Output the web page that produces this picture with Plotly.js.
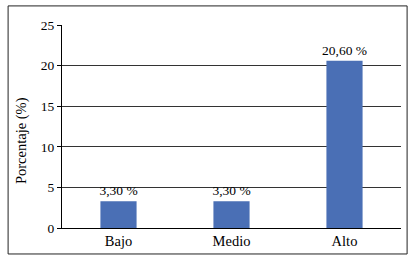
<!DOCTYPE html>
<html>
<head>
<meta charset="utf-8">
<script src="https://cdn.plot.ly/plotly-3.0.1.min.js"></script>
<style>html,body{margin:0;padding:0;background:#fff;}#chart{width:415px;height:258px;}</style>
</head>
<body>
<div id="chart"></div>
<script>
const categories = ["Bajo", "Medio", "Alto"];
const values = [3.3, 3.3, 20.6];
const yTicks = [0, 5, 10, 15, 20, 25];

const font = "'Liberation Serif', 'Times New Roman', serif";

const trace = {
  type: "bar",
  x: categories,
  y: values,
  marker: {color: "#4a6fb5"},
  texttemplate: "%{y:.2f} %",
  textposition: "outside",
  constraintext: "none",
  textfont: {family: font, size: 13.5, color: "#000"},
  cliponaxis: false,
  hoverinfo: "none"
};

const layout = {
  width: 415, height: 258,
  margin: {l: 62, r: 14, t: 25, b: 30},
  paper_bgcolor: "#fff", plot_bgcolor: "#fff",
  separators: ", ",
  bargap: 0.68,
  showlegend: false,
  font: {family: font, size: 14, color: "#000"},
  xaxis: {
    showline: true, linecolor: "#000", linewidth: 1,
    ticks: "", tickfont: {family: font, size: 14.5, color: "#000"},
    showgrid: false
  },
  yaxis: {
    range: [0, 25], tickvals: yTicks, ticktext: yTicks.map(String),
    showgrid: true, gridcolor: "#333", gridwidth: 1,
    showline: true, linecolor: "#000", linewidth: 1,
    ticks: "outside", ticklen: 4, tickcolor: "#000",
    tickfont: {family: font, size: 13.5, color: "#000"},
    zeroline: false
  },
  annotations: [{
    text: "Porcentaje (%)", xref: "paper", yref: "paper",
    x: -0.12, y: 0.43, xanchor: "center", yanchor: "middle",
    textangle: -90, showarrow: false,
    font: {family: font, size: 14.5, color: "#000"}
  }],
  shapes: [{
    type: "rect", xref: "paper", yref: "paper",
    x0: -0.159, x1: 1.018, y0: -0.128, y1: 1.094,
    line: {color: "#222", width: 1}, fillcolor: "rgba(0,0,0,0)"
  }]
};

Plotly.newPlot("chart", [trace], layout, {staticPlot: true, displayModeBar: false});
</script>
</body>
</html>
